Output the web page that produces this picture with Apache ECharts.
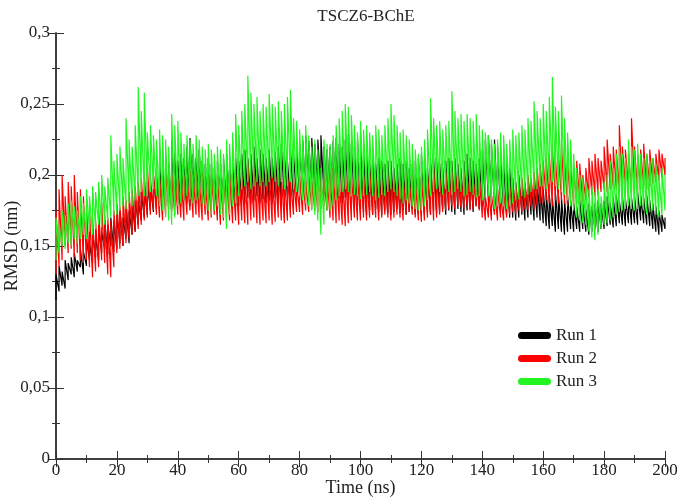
<!DOCTYPE html>
<html>
<head>
<meta charset="utf-8">
<script src="https://cdn.jsdelivr.net/npm/echarts@6/dist/echarts.min.js"></script>
<style>
  html, body { margin: 0; padding: 0; background: #fff; }
  #chart { width: 677px; height: 499px; }
</style>
</head>
<body>
<div id="chart"></div>
<script>
// RMSD (nm): lowest and highest value of each trace in every 1 ns slot, t = 0 .. 200
const run1Low = [
  .112, .118, .122, .12, .126, .13, .128, .132, .135, .13,
  .136, .14, .138, .142, .14, .145, .148, .144, .15, .146,
  .148, .152, .15, .155, .152, .158, .16, .165, .168, .17,
  .172, .175, .174, .176, .178, .175, .178, .18, .176, .178,
  .18, .178, .182, .18, .178, .182, .18, .183, .18, .178,
  .178, .176, .18, .178, .182, .18, .176, .18, .182, .178,
  .178, .182, .18, .184, .18, .182, .185, .18, .183, .18,
  .182, .18, .184, .18, .178, .182, .184, .18, .182, .185,
  .185, .188, .186, .19, .188, .186, .19, .188, .186, .184,
  .185, .182, .186, .184, .18, .184, .182, .186, .18, .178,
  .176, .174, .172, .175, .172, .176, .174, .172, .175, .173,
  .172, .174, .176, .173, .175, .172, .174, .176, .172, .174,
  .176, .172, .174, .172, .175, .173, .174, .176, .172, .175,
  .174, .172, .176, .174, .172, .175, .176, .174, .178, .176,
  .178, .18, .182, .18, .178, .176, .178, .175, .172, .17,
  .17, .168, .17, .172, .168, .17, .172, .168, .17, .168,
  .166, .164, .162, .164, .16, .162, .16, .158, .16, .162,
  .16, .162, .16, .162, .16, .158, .16, .162, .16, .162,
  .162, .164, .165, .163, .164, .166, .165, .164, .166, .165,
  .166, .165, .168, .166, .165, .164, .162, .16, .158, .16,
  .162
];
const run1High = [
  .13, .136, .132, .14, .138, .142, .145, .14, .148, .146,
  .155, .152, .16, .158, .162, .16, .168, .165, .17, .168,
  .172, .175, .17, .178, .175, .18, .185, .182, .188, .19,
  .195, .192, .2, .198, .21, .205, .21, .208, .225, .215,
  .21, .215, .212, .22, .226, .215, .212, .218, .21, .208,
  .212, .208, .205, .21, .208, .212, .215, .21, .208, .212,
  .21, .215, .218, .212, .215, .22, .212, .218, .215, .212,
  .218, .212, .216, .22, .222, .215, .21, .218, .215, .22,
  .222, .225, .228, .224, .226, .222, .225, .228, .22, .218,
  .22, .224, .226, .222, .22, .225, .228, .222, .22, .225,
  .228, .222, .215, .21, .212, .208, .212, .21, .208, .21,
  .21, .205, .208, .212, .208, .21, .205, .208, .21, .212,
  .215, .21, .205, .208, .212, .21, .208, .205, .21, .212,
  .21, .212, .208, .205, .21, .215, .212, .21, .208, .212,
  .218, .225, .228, .222, .225, .22, .215, .212, .208, .205,
  .198, .195, .2, .196, .194, .198, .196, .194, .196, .192,
  .19, .188, .186, .184, .188, .186, .184, .182, .185, .182,
  .18, .178, .182, .18, .176, .18, .178, .18, .182, .18,
  .182, .185, .18, .184, .186, .182, .185, .183, .186, .184,
  .185, .188, .186, .184, .186, .182, .18, .178, .175, .172,
  .17
];
const run2Low = [
  .13, .135, .14, .15, .145, .148, .142, .145, .14, .138,
  .14, .135, .128, .132, .135, .14, .138, .13, .128, .135,
  .145, .148, .15, .152, .155, .158, .16, .162, .165, .168,
  .17, .172, .175, .172, .17, .168, .172, .176, .174, .172,
  .172, .17, .168, .172, .175, .17, .172, .17, .168, .172,
  .168, .17, .172, .168, .165, .168, .17, .168, .166, .168,
  .165, .168, .166, .165, .168, .17, .166, .165, .168, .166,
  .168, .165, .167, .17, .168, .166, .168, .17, .172, .174,
  .174, .172, .175, .174, .176, .175, .174, .176, .178, .175,
  .17, .168, .166, .168, .165, .164, .166, .168, .17, .168,
  .168, .17, .168, .17, .172, .17, .168, .17, .172, .17,
  .168, .17, .172, .17, .168, .172, .174, .172, .17, .168,
  .167, .168, .17, .172, .168, .17, .172, .174, .175, .176,
  .178, .176, .178, .177, .176, .178, .175, .176, .178, .175,
  .17, .168, .17, .168, .172, .168, .17, .168, .17, .172,
  .174, .172, .175, .174, .176, .175, .178, .176, .178, .18,
  .18, .182, .18, .178, .182, .18, .182, .18, .178, .18,
  .178, .18, .182, .18, .182, .184, .186, .185, .186, .188,
  .19, .188, .19, .192, .19, .188, .19, .192, .19, .188,
  .19, .188, .19, .192, .19, .192, .194, .195, .196, .198,
  .2
];
const run2High = [
  .175, .19, .2, .185, .195, .192, .2, .188, .19, .185,
  .178, .175, .17, .168, .175, .18, .172, .17, .168, .175,
  .18, .178, .185, .182, .188, .19, .192, .195, .198, .2,
  .205, .198, .2, .202, .198, .2, .205, .198, .2, .202,
  .198, .202, .2, .198, .205, .2, .202, .198, .2, .196,
  .198, .2, .196, .2, .195, .198, .2, .202, .198, .2,
  .205, .2, .202, .208, .2, .205, .202, .2, .198, .204,
  .205, .2, .202, .207, .2, .198, .2, .196, .198, .195,
  .2, .198, .196, .2, .195, .198, .2, .196, .198, .2,
  .2, .205, .202, .198, .2, .202, .205, .2, .198, .2,
  .205, .2, .198, .202, .2, .198, .2, .196, .198, .2,
  .2, .198, .2, .195, .198, .2, .196, .2, .195, .198,
  .198, .202, .2, .212, .205, .2, .198, .2, .202, .2,
  .202, .205, .2, .198, .202, .2, .198, .196, .2, .198,
  .188, .185, .19, .186, .188, .19, .185, .188, .19, .192,
  .195, .192, .196, .198, .195, .2, .198, .202, .205, .208,
  .21, .212, .215, .22, .212, .215, .222, .212, .21, .208,
  .205, .21, .208, .2, .205, .212, .21, .215, .212, .21,
  .22, .225, .215, .22, .218, .235, .22, .218, .215, .24,
  .22, .215, .218, .222, .215, .218, .212, .215, .218, .215,
  .212
];
const run3Low = [
  .14, .145, .15, .148, .152, .15, .155, .152, .155, .158,
  .155, .16, .158, .162, .165, .163, .165, .168, .17, .172,
  .172, .175, .178, .176, .18, .178, .182, .185, .188, .185,
  .185, .188, .19, .185, .178, .175, .17, .168, .165, .17,
  .178, .18, .182, .185, .183, .18, .182, .183, .18, .178,
  .175, .172, .175, .178, .172, .17, .162, .172, .178, .18,
  .185, .19, .192, .195, .19, .192, .195, .192, .195, .192,
  .195, .198, .195, .192, .195, .19, .192, .195, .19, .188,
  .185, .182, .18, .178, .175, .172, .168, .158, .165, .175,
  .175, .178, .182, .185, .188, .19, .188, .185, .186, .185,
  .183, .185, .186, .188, .185, .182, .184, .186, .185, .188,
  .19, .188, .185, .183, .18, .182, .18, .178, .176, .175,
  .175, .178, .182, .185, .188, .19, .188, .186, .19, .188,
  .186, .188, .19, .188, .185, .186, .188, .186, .184, .185,
  .182, .184, .185, .18, .176, .178, .18, .178, .176, .178,
  .18, .182, .183, .185, .184, .186, .188, .19, .19, .192,
  .192, .19, .194, .195, .192, .19, .188, .186, .182, .178,
  .175, .17, .168, .166, .165, .16, .156, .154, .158, .162,
  .165, .166, .168, .17, .172, .174, .175, .176, .178, .176,
  .175, .176, .178, .175, .172, .174, .175, .172, .17, .172,
  .175
];
const run3High = [
  .17, .165, .175, .172, .18, .182, .178, .175, .185, .18,
  .19, .185, .192, .188, .195, .2, .192, .198, .228, .21,
  .215, .22, .212, .24, .225, .22, .235, .262, .245, .258,
  .23, .235, .228, .225, .232, .228, .225, .22, .243, .235,
  .238, .23, .222, .228, .225, .222, .228, .225, .22, .218,
  .222, .218, .215, .22, .218, .215, .225, .222, .23, .243,
  .235, .245, .25, .27, .258, .25, .255, .245, .25, .248,
  .257, .25, .248, .252, .245, .25, .255, .26, .24, .238,
  .232, .228, .235, .228, .22, .225, .218, .205, .225, .222,
  .222, .228, .235, .24, .245, .25, .248, .242, .235, .23,
  .238, .232, .235, .23, .228, .235, .232, .228, .235, .24,
  .25, .242, .235, .23, .232, .228, .225, .222, .218, .215,
  .22, .225, .232, .254, .24, .235, .238, .232, .235, .238,
  .259, .245, .24, .243, .238, .243, .24, .238, .243, .235,
  .232, .23, .228, .225, .222, .225, .23, .228, .222, .225,
  .232, .228, .23, .235, .232, .24, .238, .252, .245, .24,
  .25, .245, .255, .269, .248, .245, .256, .24, .23, .225,
  .215, .205, .2, .198, .195, .19, .192, .188, .19, .185,
  .195, .2, .21, .205, .215, .22, .215, .212, .225, .22,
  .218, .222, .215, .212, .215, .21, .212, .208, .2, .205,
  .2
];
const runNames = ['Run 1', 'Run 2', 'Run 3'];
const runColors = ['#000000', '#ff0000', '#22f522'];

const serif = 'Liberation Serif';
// each 1 ns slot is drawn as a stroke from its lowest to its highest reading
const trace = (low, high) => {
  const pts = [];
  low.forEach((v, t) => {
    pts.push([t, v]);
    pts.push([t, high[t]]);
  });
  return pts;
};
const comma = v => String(Number(v.toFixed(3))).replace('.', ',');

const chart = echarts.init(document.getElementById('chart'));

const axisCommon = {
  type: 'value',
  axisLine: { show: true, lineStyle: { color: '#333', width: 1.5 } },
  axisTick: { show: true, inside: true, length: 8, lineStyle: { color: '#333', width: 1 } },
  minorTick: { show: true, splitNumber: 2, length: 4, lineStyle: { color: '#333', width: 1 } },
  splitLine: { show: false }
};

const traces = [
  trace(run1Low, run1High),
  trace(run2Low, run2High),
  trace(run3Low, run3High)
];

const option = {
  animation: false,
  backgroundColor: '#fff',
  title: {
    text: 'TSCZ6-BChE',
    left: 361,
    top: 3,
    textAlign: 'center',
    textStyle: { fontFamily: serif, fontSize: 17, fontWeight: 'normal', color: '#222' }
  },
  legend: {
    orient: 'vertical',
    left: 513,
    top: 322,
    itemWidth: 33,
    itemHeight: 7,
    itemGap: 6,
    icon: 'path://M3.5,0 L29.5,0 A3.5,3.5 0 0 1 29.5,7 L3.5,7 A3.5,3.5 0 0 1 3.5,0 Z',
    textStyle: { fontFamily: serif, fontSize: 17, color: '#222' },
    data: runNames
  },
  grid: { left: 56, right: 12, top: 33, bottom: 40, containLabel: false, outerBoundsMode: 'none' },
  xAxis: [
    Object.assign({}, axisCommon, {
      min: 0, max: 200, interval: 20,
      name: 'Time (ns)',
      nameLocation: 'middle',
      nameGap: 20,
      nameMoveOverlap: false,
      nameTextStyle: { fontFamily: serif, fontSize: 18, color: '#222' },
      axisLabel: { fontFamily: serif, fontSize: 17, color: '#222', margin: 3 }
    }),
    Object.assign({}, axisCommon, {
      position: 'top', min: 0, max: 200, interval: 20,
      axisLabel: { show: false }
    })
  ],
  yAxis: [
    Object.assign({}, axisCommon, {
      min: 0, max: 0.3, interval: 0.05,
      name: 'RMSD (nm)',
      nameLocation: 'middle',
      nameGap: 35,
      nameMoveOverlap: false,
      nameTextStyle: { fontFamily: serif, fontSize: 18, color: '#222' },
      axisLabel: { fontFamily: serif, fontSize: 17, color: '#222', margin: 6, formatter: comma }
    }),
    Object.assign({}, axisCommon, {
      position: 'right', min: 0, max: 0.3, interval: 0.05,
      axisLabel: { show: false }
    })
  ],
  series: traces.map((pts, k) => ({
    name: runNames[k],
    type: 'line',
    data: pts,
    showSymbol: false,
    symbol: 'none',
    color: runColors[k],
    lineStyle: { color: runColors[k], width: 1.2 },
    z: 2 + k
  }))
};

chart.setOption(option);
</script>
</body>
</html>
